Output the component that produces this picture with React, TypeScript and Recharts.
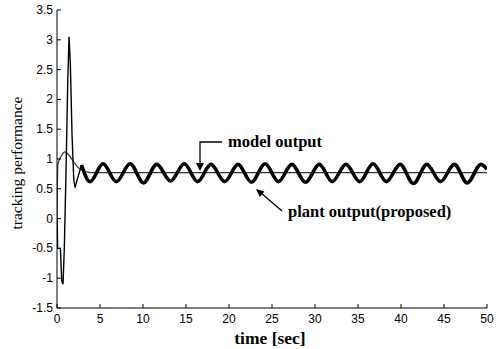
import React from "react";
import { LineChart, Line, XAxis, YAxis } from "recharts";

// ---- data ----
const xTicks = [0, 5, 10, 15, 20, 25, 30, 35, 40, 45, 50];
const yTicks = [-1.5, -1, -0.5, 0, 0.5, 1, 1.5, 2, 2.5, 3, 3.5];

// model output (thin)
const modelT = [0, 0.1, 0.3, 0.5, 0.9, 1.3, 1.8, 2.3, 2.8, 3.3, 4, 50];
const modelY = [0, 0.9, 1.0, 1.05, 1.12, 1.08, 0.98, 0.88, 0.82, 0.79, 0.77, 0.77];

// plant output, start-up transient (thin)
const plantStartT = [0, 0.08, 0.4, 0.55, 0.7, 0.85, 1.05, 1.25, 1.4, 1.55, 1.75, 1.95, 2.1, 2.4, 2.85];
const plantStartY = [0, -0.5, -0.5, -1.05, -1.1, -0.5, 0.8, 2.3, 3.05, 2.6, 1.4, 0.65, 0.52, 0.68, 0.9];

// plant output, steady oscillation (thick) – peaks and troughs
const plantT = [
  2.85, 3.85, 5.35, 6.9, 8.5, 10.05, 11.6, 13.2, 14.8, 16.35, 17.9, 19.5, 21.05, 22.6, 24.2, 25.75,
  27.3, 28.9, 30.5, 32.0, 33.6, 35.2, 36.75, 38.3, 39.9, 41.45, 43.0, 44.6, 46.2, 47.7, 49.3, 50,
];
const plantY = [
  0.9, 0.62, 0.92, 0.62, 0.92, 0.6, 0.91, 0.63, 0.92, 0.62, 0.91, 0.62, 0.91, 0.61, 0.92, 0.62,
  0.91, 0.61, 0.91, 0.62, 0.91, 0.62, 0.92, 0.62, 0.91, 0.59, 0.91, 0.62, 0.91, 0.6, 0.91, 0.83,
];

const modelData = modelT.map((t, i) => ({ t, y: modelY[i] }));
const plantStartData = plantStartT.map((t, i) => ({ t, y: plantStartY[i] }));
const plantData = plantT.map((t, i) => ({ t, y: plantY[i] }));

const tickFont = "'Liberation Sans', Arial, sans-serif";
const serif = "'Liberation Serif', 'Times New Roman', serif";

const YTick = (props: any) => {
  const { x, y, payload } = props;
  return (
    <g>
      <line x1={x + 4} y1={y} x2={x + 8} y2={y} stroke="#000" strokeWidth={1} />
      <text x={x} y={y} dy={4} textAnchor="end" fontSize={12} fontFamily={tickFont} fill="#000">
        {payload.value}
      </text>
    </g>
  );
};

const XTick = (props: any) => {
  const { x, y, payload } = props;
  return (
    <g>
      <line x1={x} y1={y - 6} x2={x} y2={y - 10} stroke="#000" strokeWidth={1} />
      <text x={x} y={y} dy={9} textAnchor="middle" fontSize={12} fontFamily={tickFont} fill="#000">
        {payload.value}
      </text>
    </g>
  );
};

export default function App() {
  return (
    <div style={{ position: "absolute", left: 0, top: 0, width: 500, height: 349, background: "#fff" }}>
      <LineChart width={500} height={349} margin={{ top: 10, right: 13, bottom: 0, left: 0 }}>
        <XAxis
          dataKey="t"
          type="number"
          domain={[0, 50]}
          ticks={xTicks}
          allowDataOverflow
          height={41}
          tickSize={0}
          tickMargin={6}
          tickLine={false}
          axisLine={{ stroke: "#000", strokeWidth: 1 }}
          tick={<XTick />}
          interval={0}
        />
        <YAxis
          type="number"
          domain={[-1.5, 3.5]}
          ticks={yTicks}
          allowDataOverflow
          width={57}
          tickSize={0}
          tickMargin={4}
          tickLine={false}
          axisLine={{ stroke: "#000", strokeWidth: 1 }}
          tick={<YTick />}
          interval={0}
        />
        <Line
          data={modelData}
          dataKey="y"
          type="monotone"
          stroke="#333"
          strokeWidth={1.2}
          dot={false}
          isAnimationActive={false}
        />
        <Line
          data={plantStartData}
          dataKey="y"
          type="linear"
          stroke="#000"
          strokeWidth={1.4}
          dot={false}
          isAnimationActive={false}
        />
        <Line
          data={plantData}
          dataKey="y"
          type="monotone"
          stroke="#000"
          strokeWidth={3.6}
          dot={false}
          isAnimationActive={false}
        />
      </LineChart>
      <svg
        width={500}
        height={349}
        style={{ position: "absolute", left: 0, top: 0, pointerEvents: "none" }}
      >
        <text
          x={18}
          y={163}
          transform="rotate(-90 18 163)"
          textAnchor="middle"
          dominantBaseline="middle"
          fontFamily={serif}
          fontSize={15.5}
          fill="#000"
        >
          tracking performance
        </text>
        <text x={270} y={344} textAnchor="middle" fontFamily={serif} fontWeight="bold" fontSize={17.5} fill="#000">
          time [sec]
        </text>
        <text x={228} y={147} fontFamily={serif} fontWeight="bold" fontSize={16.5} fill="#000">
          model output
        </text>
        <polyline points="222,142 200,142 200,164" fill="none" stroke="#000" strokeWidth={1.3} />
        <polygon points="196,163 204,163 200,171" fill="#000" />
        <text x={288} y={217} fontFamily={serif} fontWeight="bold" fontSize={16.5} fill="#000">
          plant output(proposed)
        </text>
        <line x1={282} y1={211} x2={261} y2={193} stroke="#000" strokeWidth={1.3} />
        <polygon points="256,189 264.4,191.5 259.8,196.9" fill="#000" />
      </svg>
    </div>
  );
}
